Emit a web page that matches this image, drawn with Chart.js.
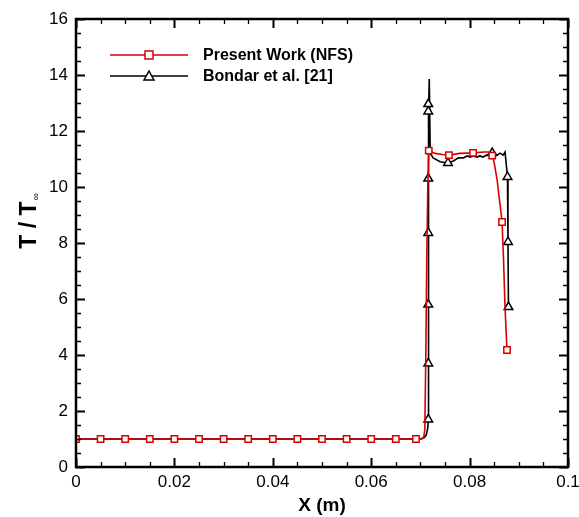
<!DOCTYPE html>
<html>
<head>
<meta charset="utf-8">
<script src="https://cdn.jsdelivr.net/npm/chart.js@4.4.0/dist/chart.umd.min.js"></script>
<style>
  body { margin: 0; background: #fff; }
</style>
</head>
<body>
<canvas id="myChart" width="579" height="517"></canvas>
<script>
// axis ranges / ticks
const xRange = [0, 0.1];
const yRange = [0, 16];
const xStep = 0.02;
const yStep = 2;

// Present Work (NFS) - full line
const nfsX = [0, 0.0691, 0.0703, 0.0707, 0.0709, 0.0711, 0.0713, 0.0715, 0.0717, 0.0730, 0.0745, 0.0758, 0.0780,
  0.0807, 0.0830, 0.0840, 0.0846, 0.0850, 0.0856, 0.0860, 0.0864, 0.0866, 0.0869, 0.0872, 0.0876];
const nfsY = [1, 1, 1.0, 1.08, 1.35, 4.0, 7.5, 10.0, 11.3, 11.2, 11.16, 11.14, 11.2,
  11.22, 11.25, 11.25, 11.15, 10.86, 10.25, 9.64, 9.07, 8.75, 7.39, 5.71, 4.18];
// Present Work (NFS) - symbols
const nfsMarkX = [0, 0.005, 0.01, 0.015, 0.02, 0.025, 0.03, 0.035, 0.04, 0.045, 0.05, 0.055, 0.06, 0.065, 0.0691,
  0.0717, 0.0758, 0.0807, 0.0846, 0.0866, 0.0876];
const nfsMarkY = [1, 1, 1, 1, 1, 1, 1, 1, 1, 1, 1, 1, 1, 1, 1,
  11.3, 11.14, 11.22, 11.12, 8.75, 4.18];

// Bondar et al. [21] - full line
const bondarX = [0, 0.0700, 0.0708, 0.0712, 0.0715, 0.0716, 0.07162, 0.07164, 0.0717, 0.0718, 0.0720, 0.0726, 0.0740,
  0.0756, 0.0767, 0.0777, 0.0787, 0.0795, 0.0801, 0.0807, 0.0815, 0.0821, 0.0827, 0.0835, 0.0846, 0.0856,
  0.0862, 0.0868, 0.0872, 0.0874, 0.0877, 0.0878, 0.0879];
const bondarY = [1, 1, 1.05, 1.15, 1.4, 1.7, 10.3, 12.96, 12.7, 13.86, 11.2, 11.04, 10.9,
  10.86, 10.93, 11.04, 11.04, 11.11, 11.07, 11.11, 11.07, 11.11, 11.07, 11.14, 11.22, 11.14,
  11.21, 11.14, 11.25, 10.9, 10.36, 8.04, 5.71];
// Bondar et al. [21] - symbols
const bondarMarkX = [0.0716, 0.0716, 0.0716, 0.0716, 0.0716, 0.0716, 0.0716, 0.0756, 0.0846, 0.0877, 0.0878, 0.0879];
const bondarMarkY = [1.7, 3.7, 5.8, 8.36, 10.3, 12.7, 12.96, 10.86, 11.21, 10.36, 8.04, 5.71];

const RED = "#d80000";
const BLACK = "#000000";

const pts = (xs, ys) => xs.map((x, i) => ({ x: x, y: ys[i] }));

const frameTicks = {
  id: "frameTicks",
  afterDatasetsDraw(chart) {
    const { ctx, chartArea: a, scales } = chart;
    const xs = scales.x, ys = scales.y;
    ctx.save();
    ctx.strokeStyle = "#000";
    // minor + major ticks, pointing inward, on all four sides
    for (let v = xRange[0]; v <= xRange[1] + 1e-9; v += xStep / 4) {
      const major = Math.abs(v / xStep - Math.round(v / xStep)) < 1e-6;
      const len = major ? 9 : 5;
      const px = Math.round(xs.getPixelForValue(v)) + 0.5;
      ctx.lineWidth = major ? 2 : 1.3;
      ctx.beginPath();
      ctx.moveTo(px, a.bottom); ctx.lineTo(px, a.bottom - len);
      ctx.moveTo(px, a.top); ctx.lineTo(px, a.top + len);
      ctx.stroke();
    }
    for (let v = yRange[0]; v <= yRange[1] + 1e-9; v += yStep / 4) {
      const major = Math.abs(v / yStep - Math.round(v / yStep)) < 1e-6;
      const len = major ? 9 : 5;
      const py = Math.round(ys.getPixelForValue(v)) + 0.5;
      ctx.lineWidth = major ? 2 : 1.3;
      ctx.beginPath();
      ctx.moveTo(a.left, py); ctx.lineTo(a.left + len, py);
      ctx.moveTo(a.right, py); ctx.lineTo(a.right - len, py);
      ctx.stroke();
    }
    ctx.lineWidth = 2.5;
    ctx.strokeRect(a.left, a.top, a.right - a.left, a.bottom - a.top);

    // legend
    const rows = [
      { label: "Present Work (NFS)", color: RED, shape: "rect", y: 55 },
      { label: "Bondar et al. [21]", color: BLACK, shape: "tri", y: 76 }
    ];
    rows.forEach(r => {
      ctx.strokeStyle = r.color;
      ctx.lineWidth = 1.5;
      ctx.beginPath();
      ctx.moveTo(110, r.y); ctx.lineTo(188, r.y);
      ctx.stroke();
      ctx.fillStyle = "#fff";
      ctx.beginPath();
      if (r.shape === "rect") {
        ctx.rect(145, r.y - 4, 8, 8);
      } else {
        ctx.moveTo(149, r.y - 5); ctx.lineTo(154, r.y + 4); ctx.lineTo(144, r.y + 4); ctx.closePath();
      }
      ctx.fill(); ctx.stroke();
      ctx.fillStyle = "#000";
      ctx.font = "bold 16px 'Liberation Sans', Arial, sans-serif";
      ctx.textBaseline = "middle";
      ctx.textAlign = "left";
      ctx.fillText(r.label, 203, r.y + 1);
    });

    // y title with subscript infinity
    ctx.save();
    ctx.translate(36, 225);
    ctx.rotate(-Math.PI / 2);
    ctx.font = "bold 23px 'Liberation Sans', Arial, sans-serif";
    ctx.textAlign = "center";
    ctx.textBaseline = "alphabetic";
    const main = "T / T";
    const w = ctx.measureText(main).width;
    ctx.fillText(main, 0, 0);
    ctx.font = "10px 'Liberation Sans', Arial, sans-serif";
    ctx.textAlign = "left";
    ctx.fillText("\u221e", w / 2 + 1, 3);
    ctx.restore();
    ctx.restore();
  }
};

const ctx = document.getElementById("myChart").getContext("2d");
const myChart = new Chart(ctx, {
  type: "scatter",
  plugins: [frameTicks],
  data: {
    datasets: [
      {
        label: "Present Work (NFS) symbols",
        data: pts(nfsMarkX, nfsMarkY),
        showLine: false,
        pointStyle: "rect",
        pointRadius: 4.5,
        pointBorderWidth: 1.5,
        pointBorderColor: RED,
        pointBackgroundColor: "#fff"
      },
      {
        label: "Present Work (NFS)",
        data: pts(nfsX, nfsY),
        showLine: true,
        borderColor: RED,
        borderWidth: 1.6,
        pointRadius: 0
      },
      {
        label: "Bondar et al. [21] symbols",
        data: pts(bondarMarkX, bondarMarkY),
        showLine: false,
        pointStyle: "triangle",
        pointRadius: 5,
        pointBorderWidth: 1.5,
        pointBorderColor: BLACK,
        pointBackgroundColor: "#fff"
      },
      {
        label: "Bondar et al. [21]",
        data: pts(bondarX, bondarY),
        showLine: true,
        borderColor: BLACK,
        borderWidth: 1.6,
        pointRadius: 0
      }
    ]
  },
  options: {
    responsive: false,
    animation: false,
    layout: { padding: { top: 19, right: 11, left: 0, bottom: 0 } },
    plugins: {
      legend: { display: false },
      tooltip: { enabled: false }
    },
    scales: {
      x: {
        type: "linear",
        min: xRange[0],
        max: xRange[1],
        grid: { display: false, drawTicks: false },
        border: { display: false },
        ticks: {
          stepSize: xStep,
          padding: 5,
          color: "#000",
          font: { family: "'Liberation Sans', Arial, sans-serif", size: 17 },
          callback: v => String(+v.toFixed(2))
        },
        title: {
          display: true,
          text: "X (m)",
          color: "#000",
          padding: { top: 0, bottom: 0 },
          font: { family: "'Liberation Sans', Arial, sans-serif", size: 19, weight: "bold" }
        },
        afterFit: s => { s.height = 50; s.paddingLeft = 0; s.paddingRight = 0; }
      },
      y: {
        type: "linear",
        min: yRange[0],
        max: yRange[1],
        grid: { display: false, drawTicks: false },
        border: { display: false },
        ticks: {
          stepSize: yStep,
          padding: 8,
          color: "#000",
          font: { family: "'Liberation Sans', Arial, sans-serif", size: 17 }
        },
        afterFit: s => { s.width = 76; s.paddingTop = 0; s.paddingBottom = 0; }
      }
    }
  }
});
</script>
</body>
</html>
